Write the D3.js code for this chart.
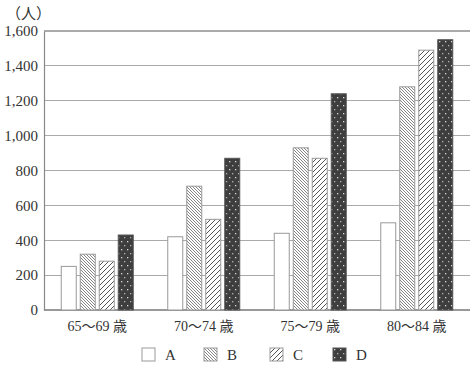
<!DOCTYPE html>
<html><head><meta charset="utf-8">
<script src="https://cdn.jsdelivr.net/npm/d3@7"></script>
<style>body{margin:0;background:#fff;} svg{display:block;}</style>
</head><body>
<svg id="c" width="471" height="365"></svg>
<script>
const categories = ["65〜69 歳", "70〜74 歳", "75〜79 歳", "80〜84 歳"];
const seriesNames = ["A", "B", "C", "D"];
const valuesA = [250, 420, 440, 500];
const valuesB = [320, 710, 930, 1280];
const valuesC = [280, 520, 870, 1490];
const valuesD = [430, 870, 1240, 1550];
const yTicks = [0, 200, 400, 600, 800, 1000, 1200, 1400, 1600];
const yUnit = "（人）";

const series = [valuesA, valuesB, valuesC, valuesD];
const svg = d3.select("#c");
const font = "'Liberation Serif', 'DejaVu Serif', 'Noto Sans CJK JP', serif";
const m = {l: 44, r: 1, t: 31, b: 55};
const W = 471, H = 365;

const defs = svg.append("defs");
// B: dense backslash lines
const pB = defs.append("pattern").attr("id","pB").attr("patternUnits","userSpaceOnUse")
  .attr("width",3).attr("height",3);
pB.append("rect").attr("width",3).attr("height",3).attr("fill","#fff");
pB.append("path").attr("d","M0,0 L3,3 M-1,2 L1,4 M2,-1 L4,1").attr("stroke","#777").attr("stroke-width",0.9);
// C: slash lines, sparser
const pC = defs.append("pattern").attr("id","pC").attr("patternUnits","userSpaceOnUse")
  .attr("width",5).attr("height",5);
pC.append("rect").attr("width",5).attr("height",5).attr("fill","#fff");
pC.append("path").attr("d","M0,5 L5,0 M-1,1 L1,-1 M4,6 L6,4").attr("stroke","#555").attr("stroke-width",1);
// D: dark with light dots
const pD = defs.append("pattern").attr("id","pD").attr("patternUnits","userSpaceOnUse")
  .attr("width",6).attr("height",8);
pD.append("rect").attr("width",6).attr("height",8).attr("fill","#3e3e3e");
pD.append("rect").attr("x",1).attr("y",1).attr("width",1.3).attr("height",1.3).attr("fill","#d8d8d8");
pD.append("rect").attr("x",4).attr("y",5).attr("width",1.3).attr("height",1.3).attr("fill","#b0b0b0");
const fills = ["#fff", "url(#pB)", "url(#pC)", "url(#pD)"];

const x = d3.scaleBand().domain(categories).range([m.l, W - m.r]);
const y = d3.scaleLinear().domain([0, 1600]).range([H - m.b, m.t]);
const barW = 15, gap = 4;

// gridlines
svg.append("g").selectAll("line").data(yTicks).join("line")
  .attr("x1", m.l).attr("x2", W - m.r)
  .attr("y1", d => y(d)).attr("y2", d => y(d))
  .attr("stroke", d => d === 0 ? "#999" : "#aaa").attr("stroke-width", 1.2)
  .attr("shape-rendering","crispEdges");

// y axis
const yAxis = d3.axisLeft(y).tickValues(yTicks).tickSize(0).tickPadding(6)
  .tickFormat(d3.format(","));
const ya = svg.append("g").attr("transform", `translate(${m.l},0)`).call(yAxis);
ya.select(".domain").attr("stroke","#888").attr("stroke-width",1.2);
ya.selectAll("text").attr("font-family", font).attr("font-size", 15).attr("fill","#333");

// bars
series.forEach((vals, si) => {
  svg.append("g").selectAll("rect").data(vals).join("rect")
    .attr("x", (d, i) => x(categories[i]) + x.bandwidth()/2 - (4*barW + 3*gap)/2 + si*(barW+gap))
    .attr("y", d => y(d))
    .attr("width", barW)
    .attr("height", d => y(0) - y(d))
    .attr("fill", fills[si])
    .attr("stroke", si === 3 ? "#555" : "#999").attr("stroke-width", 1);
});

// x labels
const xAxis = d3.axisBottom(x).tickSize(0).tickPadding(11);
const xa = svg.append("g").attr("transform", `translate(0,${y(0)})`).call(xAxis);
xa.select(".domain").remove();
xa.selectAll("text").attr("font-family", font).attr("font-size", 14).attr("fill","#333");

// unit
svg.append("text").attr("x", 6).attr("y", 19).text(yUnit)
  .attr("font-family", font).attr("font-size", 15).attr("fill","#333");

// legend
const legX = [142, 204, 270, 333];
const lg = svg.append("g").selectAll("g").data(seriesNames).join("g")
  .attr("transform", (d, i) => `translate(${legX[i]},348)`);
lg.append("rect").attr("width", 13).attr("height", 13)
  .attr("fill", (d, i) => fills[i]).attr("stroke", (d,i)=> i===3 ? "#555" : "#999");
lg.append("text").attr("x", 23).attr("y", 12).text(d => d)
  .attr("font-family", font).attr("font-size", 15).attr("fill","#333");
</script>
</body></html>
